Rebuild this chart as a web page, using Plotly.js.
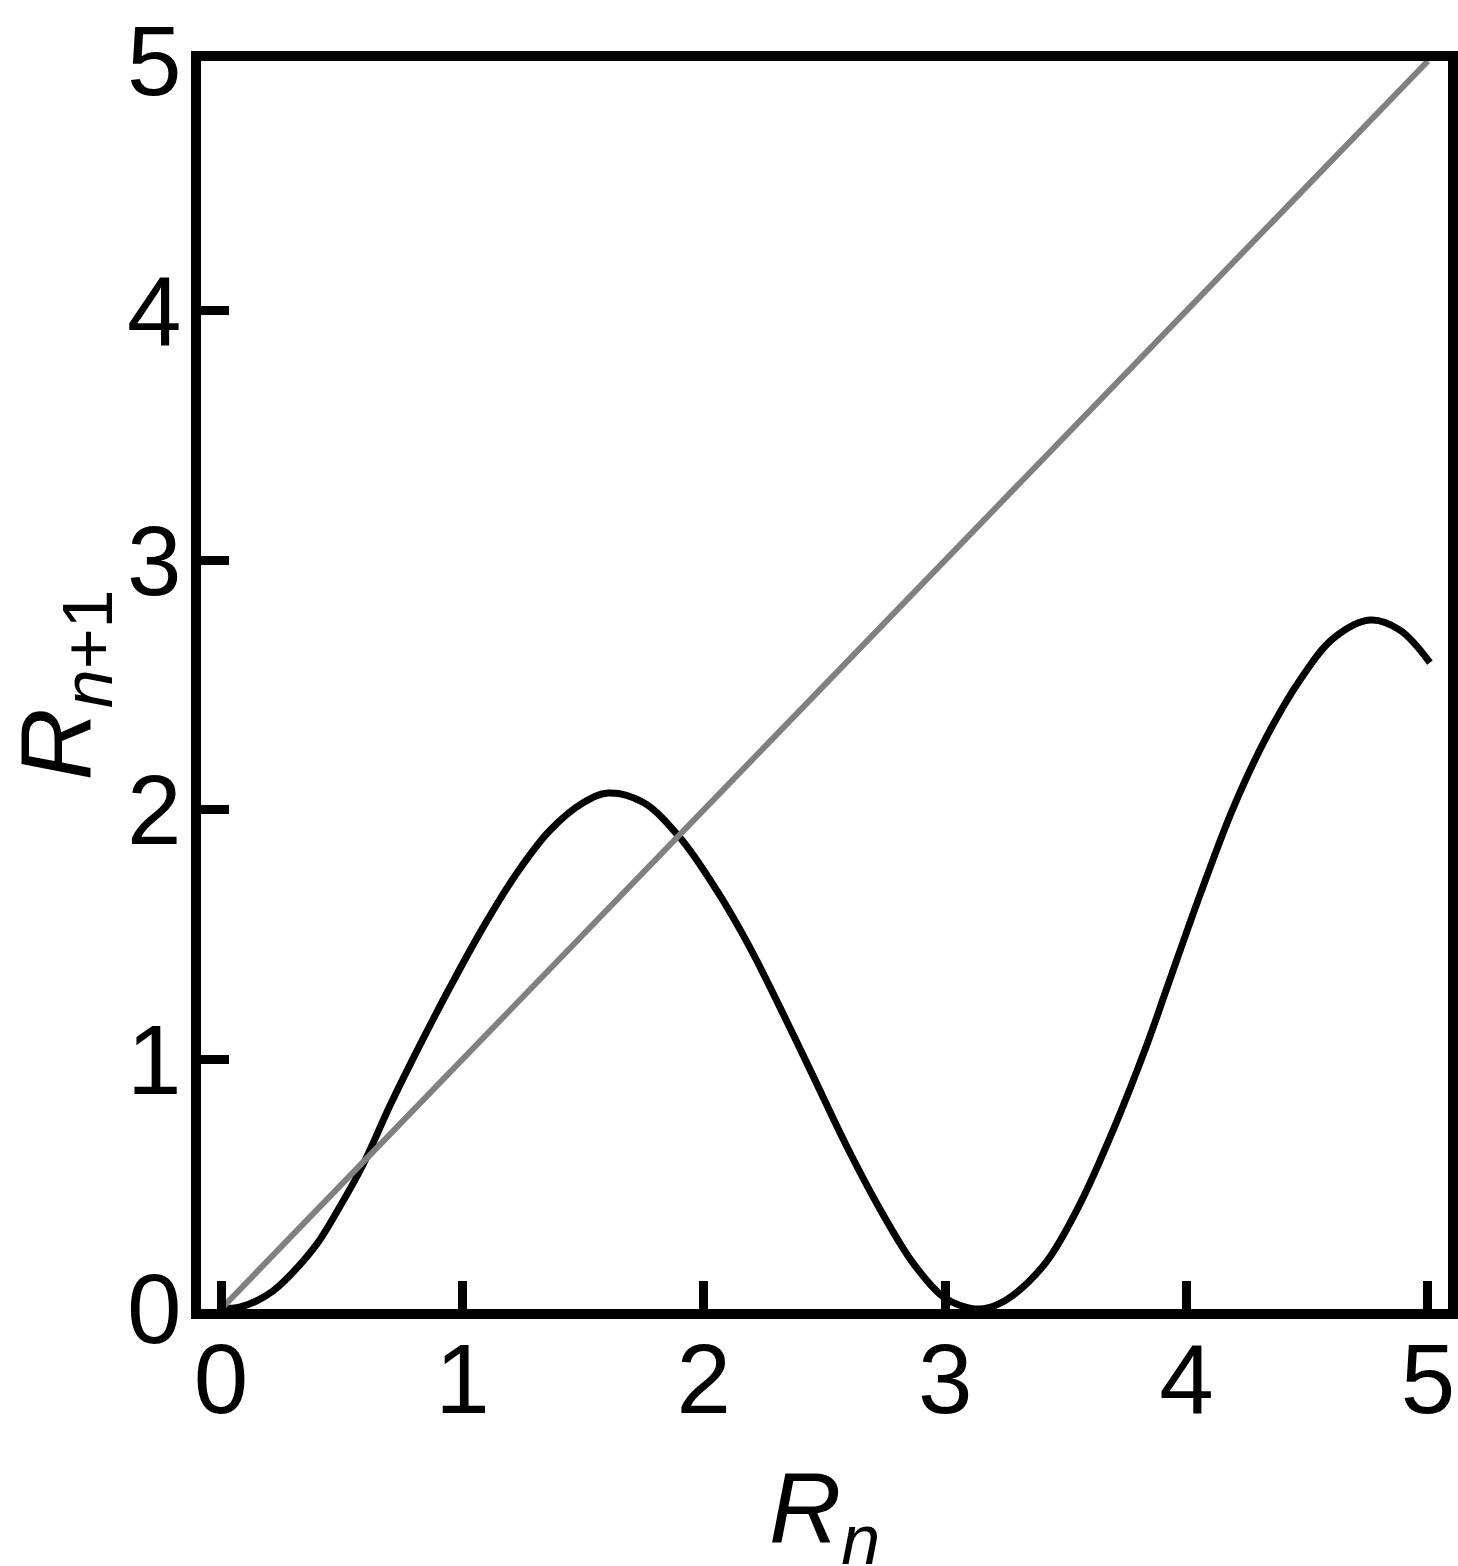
<!DOCTYPE html>
<html>
<head>
<meta charset="utf-8">
<script src="https://cdn.plot.ly/plotly-3.0.1.min.js"></script>
<style>
  html, body { margin: 0; padding: 0; background: #fff; }
  #plot { width: 1458px; height: 1566px; }
</style>
</head>
<body>
<div id="plot"></div>
<script>
// return map R_{n+1} vs R_n
const rn = [0, 0.08, 0.149, 0.215, 0.286, 0.398, 0.48, 0.584, 0.70, 0.82,
            0.949, 1.085, 1.226, 1.363, 1.50, 1.603, 1.748, 1.90, 2.055, 2.19,
            2.33, 2.452, 2.593, 2.73, 2.867, 2.99, 3.07, 3.144, 3.21, 3.28,
            3.42, 3.558, 3.695, 3.836, 3.92, 4.056, 4.19, 4.33, 4.47, 4.606,
            4.76, 4.884, 5.008];
const rnext = [0, 0.008, 0.033, 0.072, 0.135, 0.262, 0.39, 0.57, 0.815, 1.05,
               1.29, 1.528, 1.747, 1.918, 2.028, 2.067, 2.03, 1.89, 1.675, 1.45,
               1.18, 0.935, 0.65, 0.40, 0.184, 0.05, 0.012, 0, 0.015, 0.054,
               0.19, 0.42, 0.715, 1.06, 1.29, 1.66, 2.0, 2.29, 2.52, 2.685,
               2.76, 2.72, 2.59];

// identity line R_{n+1} = R_n
const diagX = [0, 5];
const diagY = [0, 5];

const tickVals = [0, 1, 2, 3, 4, 5];
const tickText = ['0', '1', '2', '3', '4', '5'];

const xTitle = '<i>R</i><sub><i>n</i></sub>';
const yTitle = '<i>R</i><sub><i>n</i>+1</sub>';

const font = 'Liberation Sans, Arial, sans-serif';

const traceMap = {
    x: rn,
    y: rnext,
    mode: 'lines',
    line: { color: '#000000', width: 7, shape: 'spline', smoothing: 1 },
    hoverinfo: 'skip'
};

const traceDiag = {
    x: diagX,
    y: diagY,
    mode: 'lines',
    line: { color: '#808080', width: 6 },
    hoverinfo: 'skip'
};

const axisCommon = {
    tickvals: tickVals,
    ticktext: tickText,
    ticks: 'inside',
    ticklen: 28,
    tickwidth: 9,
    tickcolor: '#000',
    showline: true,
    linecolor: '#000',
    linewidth: 10,
    mirror: true,
    showgrid: false,
    zeroline: false,
    tickfont: { family: font, size: 98, color: '#000' }
};

const layout = {
    width: 1458,
    height: 1566,
    margin: { l: 201, r: 10, t: 61, b: 257 },
    showlegend: false,
    plot_bgcolor: '#fff',
    paper_bgcolor: '#fff',
    xaxis: Object.assign({}, axisCommon, {
        range: [-0.083, 5.083],
        ticklabelstandoff: -24
    }),
    yaxis: Object.assign({}, axisCommon, {
        range: [0, 5],
        ticklabelstandoff: -10,
        title: { text: yTitle, font: { family: font, size: 100, color: '#000' } }
    }),
    // x title as an annotation so its height can be set exactly
    annotations: [{
        text: xTitle,
        xref: 'paper', yref: 'paper',
        x: 0.5, y: 0,
        xanchor: 'center', yanchor: 'top',
        yshift: -141,
        showarrow: false,
        font: { family: font, size: 100, color: '#000' }
    }]
};

Plotly.newPlot('plot', [traceMap, traceDiag], layout, { staticPlot: true });
</script>
</body>
</html>
